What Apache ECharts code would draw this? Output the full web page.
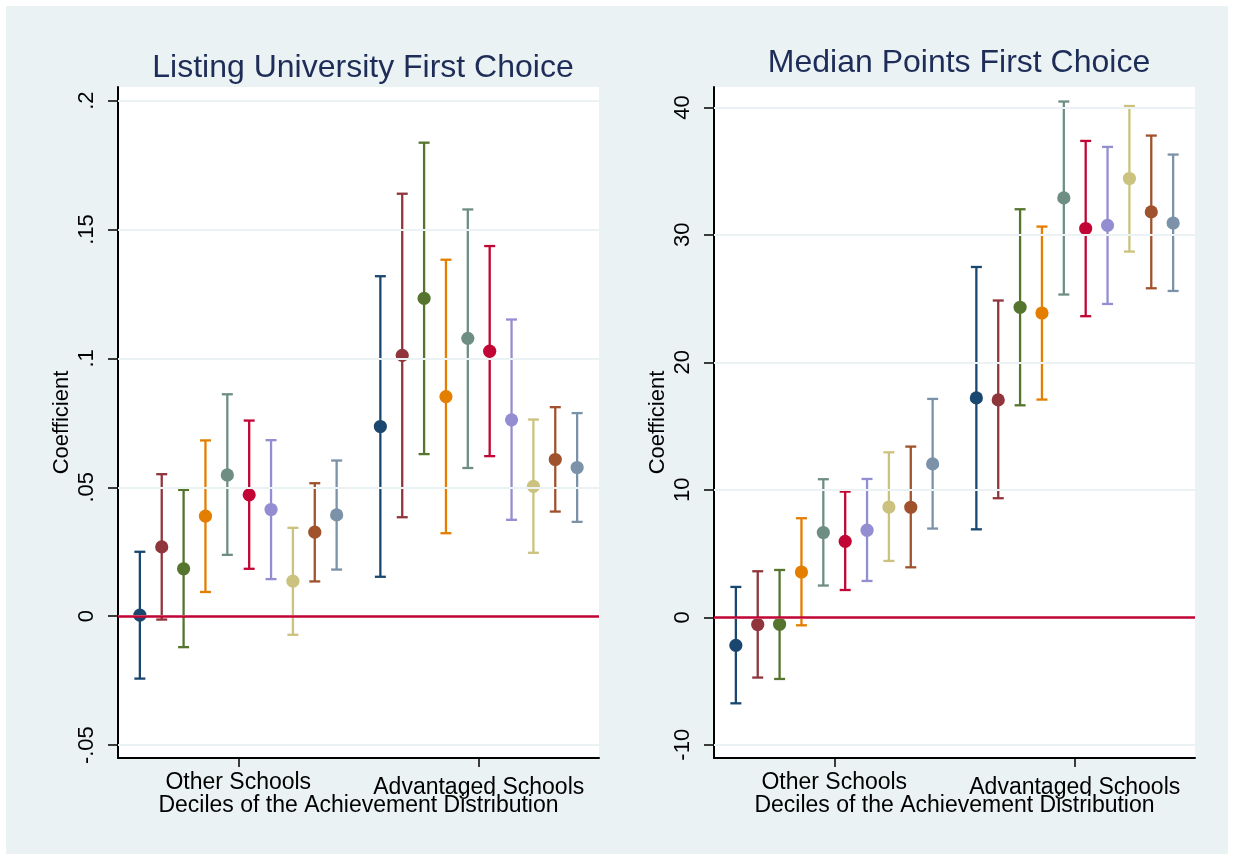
<!DOCTYPE html>
<html>
<head>
<meta charset="utf-8">
<title>Listing University / Median Points First Choice</title>
<script src="https://cdn.jsdelivr.net/npm/echarts@6/dist/echarts.min.js"></script>
<style>
  html, body { margin: 0; padding: 0; background: #ffffff; }
  #chart { width: 1234px; height: 860px; }
</style>
</head>
<body>
<div id="chart"></div>
<script>
// Decile groups on the x axis and the colour used for each achievement decile
const groupLabels = ['Other Schools', 'Advantaged Schools'];
const decileColors = ['#1a476f', '#90353b', '#55752f', '#e37e00', '#6e8e84',
                      '#c10534', '#938dd2', '#cac27e', '#a0522d', '#7b92a8'];

// Panel 1: Listing University First Choice (coefficient, lower CI, upper CI)
const univOtherEst = [0.0004, 0.0269, 0.0184, 0.0388, 0.0548, 0.0471, 0.0414, 0.0136, 0.0326, 0.0393];
const univOtherLo  = [-0.0242, -0.0013, -0.0120, 0.0094, 0.0238, 0.0184, 0.0144, -0.0072, 0.0135, 0.0181];
const univOtherHi  = [0.0250, 0.0551, 0.0490, 0.0682, 0.0861, 0.0759, 0.0683, 0.0343, 0.0516, 0.0604];
const univAdvEst   = [0.0736, 0.1012, 0.1233, 0.0852, 0.1078, 0.1028, 0.0762, 0.0504, 0.0608, 0.0577];
const univAdvLo    = [0.0153, 0.0384, 0.0629, 0.0322, 0.0575, 0.0621, 0.0374, 0.0246, 0.0406, 0.0366];
const univAdvHi    = [0.1319, 0.1639, 0.1837, 0.1383, 0.1578, 0.1436, 0.1151, 0.0763, 0.0811, 0.0788];

// Panel 2: Median Points First Choice
const ptsOtherEst = [-2.20, -0.57, -0.55, 3.55, 6.65, 5.96, 6.83, 8.65, 8.63, 12.03];
const ptsOtherLo  = [-6.75, -4.73, -4.84, -0.63, 2.49, 2.14, 2.85, 4.42, 3.92, 6.96];
const ptsOtherHi  = [2.38, 3.61, 3.71, 7.77, 10.83, 9.86, 10.85, 12.94, 13.39, 17.13];
const ptsAdvEst   = [17.21, 17.05, 24.32, 23.87, 32.90, 30.50, 30.75, 34.42, 31.80, 30.93];
const ptsAdvLo    = [6.90, 9.34, 16.63, 17.08, 25.32, 23.62, 24.58, 28.69, 25.81, 25.60];
const ptsAdvHi    = [27.48, 24.85, 32.01, 30.65, 40.46, 37.37, 36.90, 40.11, 37.79, 36.30];

// Y-axis tick values and their labels
const univTicks = [-0.05, 0, 0.05, 0.1, 0.15, 0.2];
const univTickLabels = ['-.05', '0', '.05', '.1', '.15', '.2'];
const ptsTicks = [-10, 0, 10, 20, 30, 40];
const ptsTickLabels = ['-10', '0', '10', '20', '30', '40'];

// X positions: deciles 1-10 for the first group, a gap, then the second group
const groupCenters = [5.5, 16.5];

function buildRows(otherEst, otherLo, otherHi, advEst, advLo, advHi) {
  const rows = [];
  otherEst.forEach((v, i) => rows.push([i + 1, otherLo[i], otherHi[i], v, i]));
  advEst.forEach((v, i) => rows.push([i + 12, advLo[i], advHi[i], v, i]));
  return rows;
}

const FONT = "'Liberation Sans', Arial, Helvetica, sans-serif";
const GRID_COLOR = '#eaf2f3';
const ZERO_COLOR = '#c10534';

function renderCI(params, api) {
  const x = api.value(0);
  const lo = api.value(1), hi = api.value(2), est = api.value(3);
  const color = decileColors[api.value(4)];
  const pLo = api.coord([x, lo]);
  const pHi = api.coord([x, hi]);
  const pEst = api.coord([x, est]);
  const cap = 5.5;
  const st = { stroke: color, lineWidth: 2.3, fill: null };
  return {
    type: 'group',
    children: [
      { type: 'line', shape: { x1: pLo[0], y1: pLo[1], x2: pHi[0], y2: pHi[1] }, style: st },
      { type: 'line', shape: { x1: pHi[0] - cap, y1: pHi[1], x2: pHi[0] + cap, y2: pHi[1] }, style: st },
      { type: 'line', shape: { x1: pLo[0] - cap, y1: pLo[1], x2: pLo[0] + cap, y2: pLo[1] }, style: st },
      { type: 'circle', shape: { cx: pEst[0], cy: pEst[1], r: 6.6 }, style: { fill: color, stroke: null } }
    ]
  };
}

function xAxisFor(gridIndex) {
  return {
    type: 'value', gridIndex: gridIndex, min: 0, max: 22,
    name: 'Deciles of the Achievement Distribution',
    nameLocation: 'middle', nameGap: 36, nameMoveOverlap: false,
    nameTextStyle: { fontFamily: FONT, fontSize: 23, color: '#000' },
    axisLine: { show: true, onZero: false, lineStyle: { color: '#000', width: 2 } },
    axisTick: { show: true, customValues: groupCenters, length: 9, lineStyle: { color: '#000', width: 1.5 } },
    axisLabel: {
      show: true, customValues: groupCenters, margin: 13,
      formatter: v => (v < 11 ? '{a|' + groupLabels[0] + '}' : '{b|' + groupLabels[1] + '}'),
      rich: {
        a: { fontFamily: FONT, fontSize: 23, color: '#000' },
        b: { fontFamily: FONT, fontSize: 23, color: '#000', padding: [5, 0, 0, 0] }
      }
    },
    splitLine: { show: false }
  };
}

function yAxisFor(gridIndex, min, max, ticks, labels) {
  return {
    type: 'value', gridIndex: gridIndex, min: min, max: max,
    name: 'Coefficient', nameLocation: 'middle', nameGap: 45, nameRotate: 90, nameMoveOverlap: false,
    nameTextStyle: { fontFamily: FONT, fontSize: 22, color: '#000' },
    axisLine: { show: true, onZero: false, lineStyle: { color: '#000', width: 2 } },
    axisTick: { show: true, customValues: ticks, length: 10, lineStyle: { color: '#000', width: 1.5 } },
    axisLabel: {
      show: true, customValues: ticks, rotate: 90, margin: 20,
      fontFamily: FONT, fontSize: 22, color: '#000',
      formatter: v => {
        const i = ticks.findIndex(t => Math.abs(t - v) < 1e-9);
        return i >= 0 ? labels[i] : '';
      }
    },
    splitLine: { show: false }
  };
}

function gridLineSeries(axisIndex, ticks) {
  return {
    type: 'line', xAxisIndex: axisIndex, yAxisIndex: axisIndex, data: [], z: 1, silent: true,
    markLine: {
      silent: true, symbol: 'none', animation: false,
      label: { show: false },
      lineStyle: { color: GRID_COLOR, width: 2, type: 'solid' },
      data: ticks.map(t => ({ yAxis: t }))
    }
  };
}

function zeroLineSeries(axisIndex) {
  return {
    type: 'line', xAxisIndex: axisIndex, yAxisIndex: axisIndex, data: [], z: 2, silent: true,
    markLine: {
      silent: true, symbol: 'none', animation: false,
      label: { show: false },
      lineStyle: { color: ZERO_COLOR, width: 2.5, type: 'solid' },
      data: [{ yAxis: 0 }]
    }
  };
}

const chart = echarts.init(document.getElementById('chart'), null, { renderer: 'canvas' });

chart.setOption({
  animation: false,
  backgroundColor: '#ffffff',
  graphic: [{
    type: 'rect', z: -10, silent: true,
    shape: { x: 6, y: 6, width: 1222, height: 848 },
    style: { fill: GRID_COLOR }
  }],
  title: [
    {
      text: 'Listing University First Choice', left: 358, top: 47, textAlign: 'center',
      textStyle: { fontFamily: FONT, fontSize: 32, fontWeight: 'normal', color: '#1e2d58' }
    },
    {
      text: 'Median Points First Choice', left: 954, top: 42, textAlign: 'center',
      textStyle: { fontFamily: FONT, fontSize: 32, fontWeight: 'normal', color: '#1e2d58' }
    }
  ],
  grid: [
    { left: 118, top: 87, width: 481, height: 671, show: true, backgroundColor: '#ffffff', borderWidth: 0 },
    { left: 714, top: 87, width: 481, height: 671, show: true, backgroundColor: '#ffffff', borderWidth: 0 }
  ],
  xAxis: [xAxisFor(0), xAxisFor(1)],
  yAxis: [
    yAxisFor(0, -0.055, 0.2053, univTicks, univTickLabels),
    yAxisFor(1, -11.04, 41.6, ptsTicks, ptsTickLabels)
  ],
  series: [
    gridLineSeries(0, univTicks),
    gridLineSeries(1, ptsTicks),
    zeroLineSeries(0),
    zeroLineSeries(1),
    {
      type: 'custom', xAxisIndex: 0, yAxisIndex: 0, z: 3,
      renderItem: renderCI,
      encode: { x: 0, y: [1, 2, 3] },
      data: buildRows(univOtherEst, univOtherLo, univOtherHi, univAdvEst, univAdvLo, univAdvHi)
    },
    {
      type: 'custom', xAxisIndex: 1, yAxisIndex: 1, z: 3,
      renderItem: renderCI,
      encode: { x: 0, y: [1, 2, 3] },
      data: buildRows(ptsOtherEst, ptsOtherLo, ptsOtherHi, ptsAdvEst, ptsAdvLo, ptsAdvHi)
    }
  ]
});
</script>
</body>
</html>
